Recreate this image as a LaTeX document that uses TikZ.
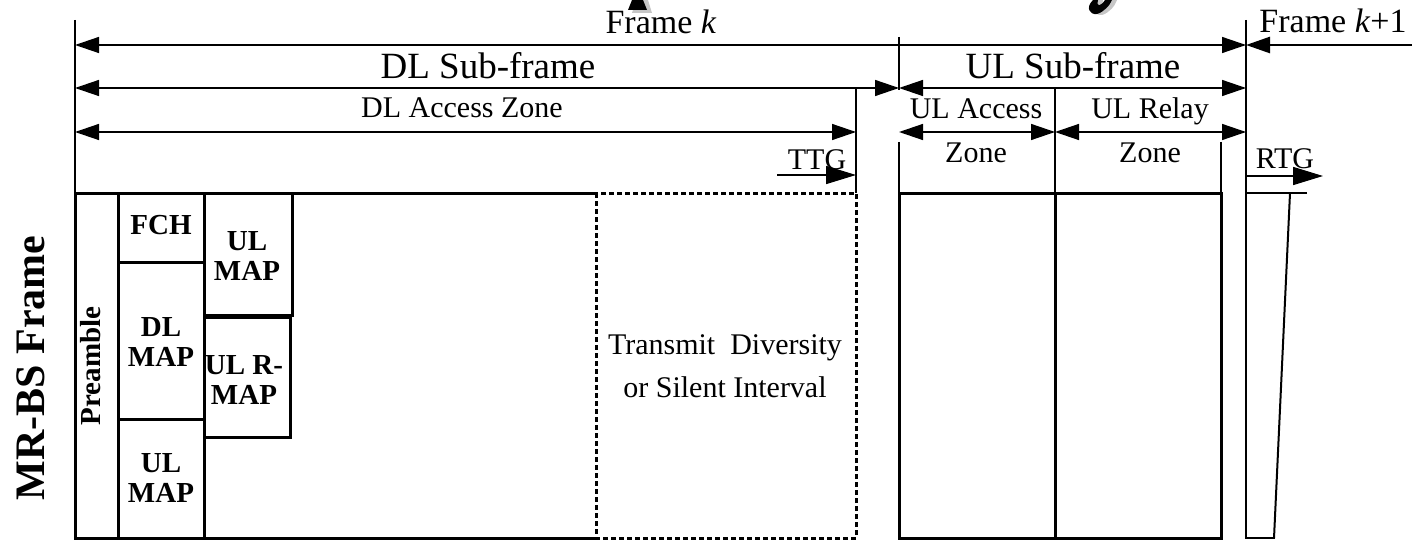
\documentclass[tikz,border=0pt]{standalone}
\usepackage{fontspec}
\setmainfont{Liberation Serif}
\usetikzlibrary{arrows.meta}
\begin{document}
\begin{tikzpicture}[x=1pt,y=-1pt,
  tri/.tip={Triangle[length=24pt,width=16pt]},
  ar/.style={-{tri}, line width=1.4pt},
  dar/.style={{tri}-{tri}, line width=1.4pt},
  gar/.style={-{Triangle[length=30pt,width=18pt]}, line width=1.6pt},
  guide/.style={line width=1.6pt},
  box/.style={line width=3pt},
  dbox/.style={line width=3pt, dash pattern=on 5pt off 3pt},
  big/.style={inner sep=0pt, anchor=base, font=\fontsize{34}{40}\selectfont},
  mid/.style={inner sep=0pt, anchor=base, font=\fontsize{37}{44}\selectfont},
  lbl/.style={inner sep=0pt, anchor=base, font=\fontsize{30}{36}\selectfont},
  blab/.style={inner sep=0pt, align=center, font=\fontsize{29}{30}\bfseries\selectfont},
]
\useasboundingbox (0,0) rectangle (1412,540);

% watermark fragments
\fill[gray!45] (636,0) -- (648,0) -- (652,13) -- (632,13) -- cycle;
\fill[black] (632,0) -- (643,0) -- (647,10) -- (628,10) -- cycle;
\fill[gray!45] (1098,0) .. controls (1090,8) and (1095,16) .. (1102,15) .. controls (1109,13) and (1115,6) .. (1117,0) -- (1110,0) .. controls (1106,6) and (1101,8) .. (1103,0) -- cycle;
\fill[black] (1093,0) .. controls (1085,8) and (1090,15) .. (1097,14) .. controls (1104,12) and (1110,5) .. (1112,0) -- (1105,0) .. controls (1101,6) and (1096,8) .. (1098,0) -- cycle;

% coordinates
\coordinate (lt) at (75,20);
\coordinate (lb) at (75,193);
\coordinate (fkL) at (75,45);
\coordinate (fkR) at (1246,45);
\coordinate (fkE) at (1412,45);
\coordinate (rt) at (1246,20);
\coordinate (rb) at (1246,193);
\coordinate (dsL) at (75,88);
\coordinate (dsR) at (899,88);
\coordinate (usR) at (1246,88);
\coordinate (daL) at (75,132);
\coordinate (daR) at (856,132);
\coordinate (uaL) at (899,132);
\coordinate (uaR) at (1055,132);
\coordinate (urR) at (1246,132);
\coordinate (ttgA) at (777,175);
\coordinate (ttgB) at (856,175);
\coordinate (rtgA) at (1246,176);
\coordinate (rtgB) at (1323,176);

% guide lines
\draw[guide] (lt) -- (lb);
\draw[guide] (rt) -- (rb);
\draw[guide] (899,37) -- (899,90);
\draw[guide] (899,142) -- (899,193);
\draw[guide] (856,88) -- (856,193);
\draw[guide] (1055,88) -- (1055,193);
\draw[guide] (1221,142) -- (1221,193);

% arrows
\draw[dar] (fkL) -- (fkR);
\draw[-{tri}, line width=2.6pt] (fkE) -- (fkR);
\draw[dar] (dsL) -- (dsR);
\draw[dar] (dsR) -- (usR);
\draw[dar] (daL) -- (daR);
\draw[dar] (uaL) -- (uaR);
\draw[dar] (uaR) -- (urR);
\draw[gar] (ttgA) -- (ttgB);
\draw[gar] (rtgA) -- (rtgB);

% labels top
\node[big] (tfk) at (661,34) {Frame \textit{k}};
\node[big] (tfk1) at (1333,33) {Frame \textit{k}+1};
\node[mid] (tdls) at (488,79) {DL Sub-frame};
\node[mid] (tuls) at (1073,79) {UL Sub-frame};
\node[lbl] (tdla) at (462,118) {DL Access Zone};
\node[lbl] (tula) at (976,119) {UL Access};
\node[lbl] (tulz) at (976,163) {Zone};
\node[lbl] (turl) at (1150,119) {UL Relay};
\node[lbl] (turz) at (1150,163) {Zone};
\node[lbl] (tttg) at (817,170) {TTG};
\node[lbl] (trtg) at (1285,169) {RTG};

% DL box
\draw[box] (596,193) -- (75,193) -- (75,538) -- (596,538);
\draw[dbox] (596,193) rectangle (856,538);
\draw[box] (118,193) -- (118,538);
\draw[box] (204,193) -- (204,538);
\draw[box] (118,262) -- (204,262);
\draw[box] (118,419) -- (204,419);
\draw[box] (204,193) rectangle (292,315);
\draw[box] (204,317) rectangle (290,437);

% UL boxes
\draw[box] (899,193) rectangle (1221,538);
\draw[box] (1055,193) -- (1055,538);

% RTG box
\draw[line width=2pt] (1307,193) -- (1246,193) -- (1246,538) -- (1275,538);
\draw[line width=2pt] (1290,193) -- (1274,538);

% box labels
\node[blab, rotate=90] (pre) at (91,366) {Preamble};
\node[blab] (fch) at (161,225) {FCH};
\node[blab] (dlmap) at (161,342) {DL\\MAP};
\node[blab] (ulmap2) at (161,478) {UL\\MAP};
\node[blab] (ulmap1) at (247,256) {UL\\MAP};
\node[blab] (ulrmap) at (244,380) {UL R-\\MAP};
\node[align=center, inner sep=0pt, font=\fontsize{30}{43}\selectfont] (tdiv) at (725,366) {Transmit\ \ Diversity\\or Silent Interval};
\node[inner sep=0pt, rotate=90, font=\fontsize{42}{48}\bfseries\selectfont] (mrbs) at (31,368) {MR-BS Frame};
\end{tikzpicture}
\end{document}
